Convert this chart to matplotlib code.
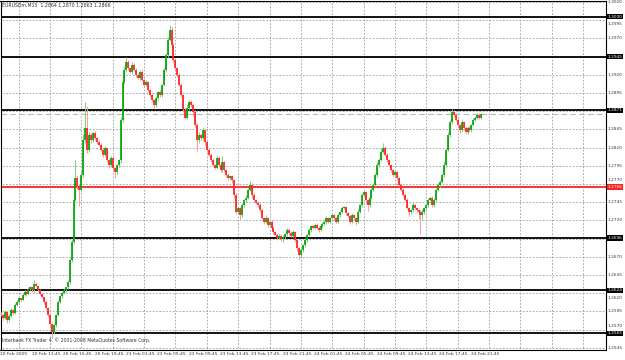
import numpy as np
import matplotlib
matplotlib.use('Agg')
import matplotlib.pyplot as plt
import matplotlib.transforms as mtrans

symbol_info = 'EURUSDm,M15  1.2864 1.2870 1.2863 1.2866'
copyright_note = 'Interbank FX Trader 4, \u00a9 2001-2008 MetaQuotes Software Corp.'

# M15 closes, 20 Feb 2009 07:45 -> 24 Feb 2009 22:30
first_open = 1.2592
closes = [
    1.2590, 1.2586, 1.2594, 1.2583, 1.2589, 1.2597, 1.2593, 1.2604, 1.2608, 1.2613,
    1.2611, 1.2618, 1.2622, 1.2619, 1.2626, 1.2628, 1.2624, 1.2633, 1.2630, 1.2624,
    1.2619, 1.2615, 1.2608, 1.2600, 1.2590, 1.2578, 1.2567, 1.2576, 1.2590, 1.2608,
    1.2616, 1.2620, 1.2624, 1.2628, 1.2635, 1.2666, 1.2690, 1.2748, 1.2778, 1.2767,
    1.2762, 1.2782, 1.2830, 1.2847, 1.2817, 1.2837, 1.2830, 1.2840, 1.2833, 1.2828,
    1.2824, 1.2817, 1.2810, 1.2819, 1.2803, 1.2796, 1.2806, 1.2792, 1.2786, 1.2796,
    1.2803, 1.2858, 1.2910, 1.2927, 1.2938, 1.2929, 1.2924, 1.2933, 1.2927, 1.2920,
    1.2916, 1.2924, 1.2913, 1.2906, 1.2910, 1.2899, 1.2892, 1.2885, 1.2879, 1.2888,
    1.2896, 1.2892, 1.2906, 1.2927, 1.2947, 1.2968, 1.2982, 1.2961, 1.2940, 1.2929,
    1.2920, 1.2906, 1.2892, 1.2872, 1.2861, 1.2874, 1.2883, 1.2879, 1.2869, 1.2851,
    1.2830, 1.2837, 1.2833, 1.2844, 1.2828, 1.2817, 1.2810, 1.2803, 1.2796, 1.2792,
    1.2806, 1.2796, 1.2789, 1.2800, 1.2789, 1.2782, 1.2778, 1.2781, 1.2775, 1.2755,
    1.2732, 1.2737, 1.2727, 1.2741, 1.2748, 1.2751, 1.2762, 1.2769, 1.2755, 1.2748,
    1.2744, 1.2741, 1.2734, 1.2723, 1.2718, 1.2723, 1.2714, 1.2718, 1.2710, 1.2704,
    1.2700, 1.2696, 1.2699, 1.2694, 1.2697, 1.2701, 1.2707, 1.2703, 1.2699, 1.2704,
    1.2693, 1.2682, 1.2672, 1.2679, 1.2686, 1.2693, 1.2700, 1.2707, 1.2712, 1.2710,
    1.2714, 1.2710, 1.2707, 1.2712, 1.2715, 1.2718, 1.2723, 1.2718, 1.2723, 1.2727,
    1.2723, 1.2718, 1.2727, 1.2732, 1.2737, 1.2738, 1.2730, 1.2726, 1.2718, 1.2727,
    1.2723, 1.2718, 1.2732, 1.2741, 1.2755, 1.2759, 1.2748, 1.2741, 1.2751, 1.2762,
    1.2769, 1.2782, 1.2796, 1.2803, 1.2814, 1.2819, 1.2810, 1.2803, 1.2796, 1.2789,
    1.2782, 1.2786, 1.2778, 1.2769, 1.2762, 1.2755, 1.2748, 1.2737, 1.2732, 1.2734,
    1.2741, 1.2737, 1.2734, 1.2732, 1.2727, 1.2732, 1.2737, 1.2741, 1.2748, 1.2751,
    1.2741, 1.2748, 1.2762, 1.2769, 1.2773, 1.2782, 1.2796, 1.2817, 1.2837, 1.2855,
    1.2869, 1.2865, 1.2858, 1.2851, 1.2844, 1.2855, 1.2847, 1.2841, 1.2847, 1.2844,
    1.2851, 1.2858, 1.2861, 1.2865, 1.2861, 1.2866,
]
# wick lengths in pips above / below the body
upper_pips = [
    2, 1, 3, 1, 2, 2, 1, 3, 2, 2,  1, 2, 2, 1, 3, 2, 1, 5, 2, 1,
    2, 1, 1, 2, 1, 2, 1, 3, 2, 3,  2, 1, 2, 1, 3, 2, 4, 3, 25, 5,
    3, 6, 8, 35, 30, 4, 3, 2, 3, 2,  2, 3, 2, 3, 2, 2, 3, 2, 1, 2,
    2, 4, 3, 5, 6, 3, 2, 4, 3, 2,  3, 2, 4, 2, 3, 2, 2, 3, 2, 3,
    2, 3, 2, 4, 3, 4, 7, 3, 2, 3,  2, 2, 3, 2, 2, 4, 3, 2, 2, 2,
    3, 4, 2, 4, 2, 3, 2, 2, 3, 2,  3, 2, 2, 8, 2, 2, 3, 2, 2, 2,
    2, 3, 2, 3, 2, 4, 3, 5, 2, 3,  2, 2, 3, 2, 2, 4, 2, 3, 2, 2,
    2, 2, 3, 2, 3, 2, 3, 2, 2, 3,  2, 2, 2, 3, 2, 3, 2, 3, 2, 2,
    2, 3, 2, 2, 3, 2, 3, 2, 2, 3,  2, 2, 3, 2, 3, 2, 2, 2, 2, 3,
    2, 2, 3, 2, 3, 2, 2, 2, 4, 3,  3, 3, 4, 3, 5, 8, 3, 2, 2, 2,
    2, 3, 2, 2, 2, 2, 2, 3, 2, 2,  3, 2, 2, 2, 2, 3, 2, 2, 3, 2,
    2, 3, 3, 2, 3, 3, 5, 3, 4, 3,  4, 2, 2, 2, 2, 3, 2, 2, 3, 2,
    2, 3, 2, 2, 2, 2,
]
lower_pips = [
    2, 3, 2, 4, 2, 2, 3, 2, 2, 1,  2, 1, 2, 3, 2, 1, 3, 2, 2, 2,
    2, 2, 3, 2, 3, 3, 8, 3, 2, 2,  2, 2, 1, 2, 2, 3, 3, 3, 2, 4,
    22, 3, 2, 3, 4, 3, 3, 2, 3, 3,  2, 2, 3, 2, 3, 4, 2, 3, 8, 2,
    3, 4, 3, 2, 3, 3, 2, 3, 2, 3,  2, 3, 2, 3, 2, 3, 2, 3, 4, 3,
    2, 3, 2, 2, 3, 2, 2, 3, 2, 3,  3, 2, 3, 3, 2, 2, 2, 3, 5, 3,
    14, 3, 3, 2, 4, 3, 2, 3, 3, 2,  2, 3, 2, 3, 3, 2, 3, 2, 3, 4,
    3, 2, 6, 2, 2, 3, 2, 2, 4, 2,  2, 3, 2, 3, 3, 2, 3, 2, 3, 2,
    2, 3, 2, 2, 3, 2, 2, 3, 2, 2,  3, 4, 7, 2, 2, 3, 2, 2, 3, 2,
    2, 2, 3, 2, 2, 2, 3, 2, 2, 2,  2, 2, 2, 3, 2, 2, 3, 2, 3, 2,
    3, 4, 2, 2, 2, 3, 5, 8, 2, 2,  2, 2, 2, 3, 2, 2, 2, 3, 2, 3,
    2, 2, 3, 2, 2, 3, 2, 2, 6, 3,  2, 3, 4, 10, 25, 6, 3, 2, 2, 2,
    3, 2, 2, 2, 3, 2, 2, 3, 2, 2,  2, 3, 2, 2, 4, 3, 3, 2, 3, 2,
    2, 2, 2, 2, 2, 2,
]

time_labels = ['20 Feb 2009', '20 Feb 11:45', '20 Feb 15:45', '20 Feb 19:45',
               '23 Feb 01:45', '23 Feb 05:45', '23 Feb 09:45', '23 Feb 13:45',
               '23 Feb 17:45', '23 Feb 21:45', '24 Feb 01:45', '24 Feb 05:45',
               '24 Feb 09:45', '24 Feb 13:45', '24 Feb 17:45', '24 Feb 21:45']
bars_per_label = 16

grid_prices = ['1.3020', '1.2995', '1.2970', '1.2945', '1.2920', '1.2895', '1.2870',
               '1.2845', '1.2820', '1.2795', '1.2770', '1.2745', '1.2720', '1.2695',
               '1.2670', '1.2645', '1.2620', '1.2595', '1.2570', '1.2545']
level_lines = ['1.3000', '1.2945', '1.2871', '1.2696', '1.2624', '1.2565']
red_level = '1.2766'
bid_price = '1.2866'

# ---------------------------------------------------------------
closes = np.array(closes)
opens = np.concatenate([[first_open], closes[:-1]])
body_hi = np.maximum(opens, closes)
body_lo = np.minimum(opens, closes)
highs = body_hi + np.array(upper_pips) * 0.0001
lows = body_lo - np.array(lower_pips) * 0.0001
idx = np.arange(len(closes))
up = closes >= opens

W, H = 625, 360
fig = plt.figure(figsize=(W / 100, H / 100), dpi=100)
fig.patch.set_facecolor('white')
ax = fig.add_axes([0.5 / W, 10 / H, 605 / W, 349.5 / H])
ax.set_xlim(-0.26, 308.4)
ax.set_ylim(1.3020 - 348 / 7280, 1.3020 + 1.5 / 7280)
ax.set_xticks([])
ax.set_yticks([])
for s in ax.spines.values():
    s.set_color('black')
    s.set_linewidth(0.8)

grid_vals = [float(g) for g in grid_prices]
grid_kw = dict(colors='#9a9a9a', linestyles=(0, (2, 2)), linewidths=0.6, zorder=1)
ax.hlines(grid_vals, -1, 320, **grid_kw)
vx = np.arange(9, 309, bars_per_label)
ax.vlines(vx, 1.2, 1.4, **grid_kw)

# levels
for lv in level_lines:
    ax.axhline(float(lv), color='black', lw=1.3, zorder=2)
ax.axhline(float(red_level), color='#ff2020', lw=1.3, zorder=2)
ax.axhline(float(bid_price), color='#a6c6a6', lw=0.8, ls=(0, (5, 3)), zorder=2)

# candles
ax.vlines(idx[up], lows[up], highs[up], colors='#7fcf7f', linewidths=0.7, zorder=3)
ax.vlines(idx[~up], lows[~up], highs[~up], colors='#ff9a9a', linewidths=0.7, zorder=3)
bh = np.maximum(body_hi, body_lo + 0.00006)
ax.vlines(idx[up], body_lo[up], bh[up], colors='#00a000', linewidths=1.2, zorder=4)
ax.vlines(idx[~up], body_lo[~up], bh[~up], colors='#ff1a1a', linewidths=1.2, zorder=4)

# price scale: boxed labels for the drawn levels, plain labels for the grid
ytr = mtrans.blended_transform_factory(ax.transAxes, ax.transData)
boxed = [float(v) for v in level_lines] + [float(red_level)]
for g in grid_prices:
    gv = float(g)
    near = [b for b in boxed if abs(b - gv) < 0.0009]
    if near:
        if abs(near[0] - gv) < 0.0002:
            continue  # hidden under the level box
        gv = near[0] + (0.0010 if gv > near[0] else -0.0010)
    ax.text(1.004, gv, g, transform=ytr, fontsize=3.1, va='center',
            ha='left', color='#333333', clip_on=False)
for lv in level_lines:
    ax.text(1.003, float(lv), lv, transform=ytr, fontsize=3.1, va='center',
            ha='left', color='white', clip_on=False, zorder=6,
            bbox=dict(boxstyle='square,pad=0.15', fc='black', ec='none'))
ax.text(1.003, float(red_level), red_level, transform=ytr, fontsize=3.1,
        va='center', ha='left', color='white', clip_on=False, zorder=6,
        bbox=dict(boxstyle='square,pad=0.15', fc='#ff2020', ec='none'))

# time scale
xtr = mtrans.blended_transform_factory(ax.transData, ax.transAxes)
for k, lab in enumerate(time_labels):
    ax.text(k * bars_per_label - 0.3, -0.007, lab, transform=xtr, fontsize=3.2,
            va='top', ha='left', color='#333333', clip_on=False)

fig.text(2 / W, 1 - 5 / H, symbol_info, fontsize=3.3, va='center', ha='left',
         color='#333333')
fig.text(2 / W, 1 - 340 / H, copyright_note, fontsize=3.3, va='center',
         ha='left', color='#333333')

fig.savefig('out.png', dpi=100, facecolor='white')
